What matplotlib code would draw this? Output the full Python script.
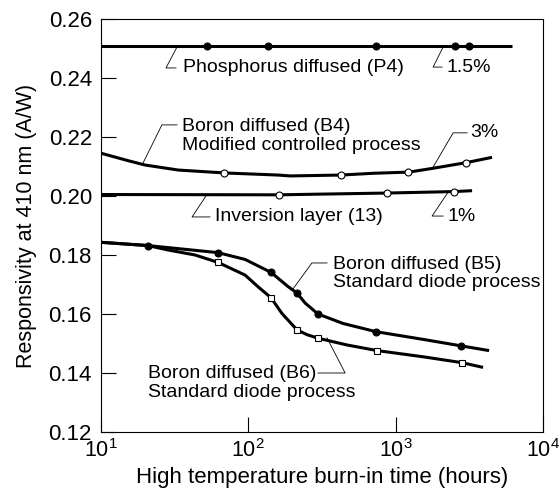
import numpy as np
import matplotlib
matplotlib.use('Agg')
import matplotlib.pyplot as plt

# Phosphorus diffused (P4)
p4_x = [10, 6200]
p4_y = [0.2510, 0.2510]
p4_mx = [52, 136, 736, 2530, 3150]
p4_my = [0.2510, 0.2510, 0.2510, 0.2510, 0.2510]

# Boron diffused (B4), modified controlled process
b4_x = [10, 15.2, 19.9, 33.4, 69.5, 159, 192, 426, 702, 1233, 1795, 3006, 4509]
b4_y = [0.2145, 0.2120, 0.2105, 0.2088, 0.2078, 0.2071, 0.2068, 0.2071,
        0.2077, 0.2081, 0.2094, 0.2113, 0.2131]
b4_mx = [68, 425, 1213, 3006]
b4_my = [0.2079, 0.2072, 0.2081, 0.2112]

# Inversion layer (13)
inv_x = [10, 161, 870, 2496, 3300]
inv_y = [0.2005, 0.2004, 0.2010, 0.2015, 0.2018]
inv_mx = [161, 870, 2496]
inv_my = [0.2004, 0.2010, 0.2015]

# Boron diffused (B5), standard diode process
b5_x = [10, 20.8, 62.2, 95, 142.6, 186, 214, 243, 297, 439, 736, 1535,
        2780, 4306]
b5_y = [0.1843, 0.1832, 0.1808, 0.1785, 0.1741, 0.1693, 0.1671, 0.1637,
        0.1600, 0.1568, 0.1540, 0.1514, 0.1492, 0.1476]
b5_mx = [20.8, 62.2, 142.6, 214, 297, 736, 2780]
b5_my = [0.1832, 0.1808, 0.1741, 0.1671, 0.1600, 0.1540, 0.1492]

# Boron diffused (B6), standard diode process
b6_x = [10, 20.8, 28.5, 43.5, 62.2, 95, 116, 142.6, 169, 214, 250, 297,
        468, 748, 1535, 2825, 3919]
b6_y = [0.1843, 0.1832, 0.1817, 0.1800, 0.1775, 0.1732, 0.1693, 0.1655,
        0.1602, 0.1546, 0.1530, 0.1518, 0.1495, 0.1476, 0.1455, 0.1435,
        0.1419]
b6_mx = [62.2, 142.6, 214, 297, 748, 2825]
b6_my = [0.1775, 0.1655, 0.1546, 0.1518, 0.1476, 0.1435]

y_ticks = [0.12, 0.14, 0.16, 0.18, 0.20, 0.22, 0.24, 0.26]
y_tick_labels = ['0.12', '0.14', '0.16', '0.18', '0.20', '0.22', '0.24', '0.26']
x_ticks = [10, 100, 1000, 10000]
x_tick_labels = [r'$10^1$', r'$10^2$', r'$10^3$', r'$10^4$']

plt.rcParams['font.family'] = ['Liberation Sans', 'DejaVu Sans']
plt.rcParams['mathtext.fontset'] = 'custom'
plt.rcParams['mathtext.rm'] = 'Liberation Sans'
plt.rcParams['mathtext.it'] = 'Liberation Sans'


def leader(ax, pts):
    """Thin callout line from a curve to its label"""
    xs, ys = zip(*pts)
    ax.plot(xs, ys, color='black', lw=0.6, zorder=2)


def draw_curve(ax, x, y, mx, my, marker, filled):
    ax.plot(x, y, color='black', lw=2.2, solid_capstyle='butt',
            solid_joinstyle='round', zorder=3)
    face = 'black' if filled else 'white'
    ax.plot(mx, my, linestyle='none', marker=marker, markersize=5,
            markerfacecolor=face, markeredgecolor='black',
            markeredgewidth=0.8, zorder=4)


def main():
    fig = plt.figure(figsize=(5.59, 4.93), dpi=100)
    ax = fig.add_axes([0.1807, 0.1237, 0.7907, 0.8378])

    draw_curve(ax, p4_x, p4_y, p4_mx, p4_my, 'o', True)
    draw_curve(ax, b4_x, b4_y, b4_mx, b4_my, 'o', False)
    draw_curve(ax, inv_x, inv_y, inv_mx, inv_my, 'o', False)
    draw_curve(ax, b5_x, b5_y, b5_mx, b5_my, 'o', True)
    draw_curve(ax, b6_x, b6_y, b6_mx, b6_my, 's', False)

    fs = 14
    # labels and callouts
    leader(ax, [(32.8, 0.2505), (27.6, 0.2434), (32.3, 0.2434)])
    ax.text(36.1, 0.2434, 'Phosphorus diffused (P4)', fontsize=fs, va='center')
    leader(ax, [(2099, 0.2505), (1795, 0.2437), (2064, 0.2437)])
    ax.text(2198, 0.2437, '1.5%', fontsize=fs, va='center')

    leader(ax, [(19.3, 0.2112), (25.9, 0.2241), (32.8, 0.2241)])
    ax.text(35.5, 0.2202, 'Boron diffused (B4)\nModified controlled process',
            fontsize=fs, va='center', linespacing=1.15)
    leader(ax, [(1766, 0.2092), (2455, 0.2214), (3055, 0.2214)])
    ax.text(3198, 0.2214, '3%', fontsize=fs, va='center')

    leader(ax, [(52.5, 0.2006), (41.5, 0.1929), (54.9, 0.1929)])
    ax.text(59.4, 0.1929, 'Inversion layer (13)', fontsize=fs, va='center')
    leader(ax, [(2270, 0.2013), (1766, 0.1932), (2099, 0.1932)])
    ax.text(2234, 0.1932, '1%', fontsize=fs, va='center')

    leader(ax, [(201, 0.1685), (270, 0.1773), (342, 0.1773)])
    ax.text(376, 0.1737, 'Boron diffused (B5)\nStandard diode process',
            fontsize=fs, va='center', linespacing=1.1)
    leader(ax, [(342, 0.1519), (454, 0.1400), (297, 0.1400)])
    ax.text(20.8, 0.1366, 'Boron diffused (B6)\nStandard diode process',
            fontsize=fs, va='center', linespacing=1.1)

    # axes styling
    ax.set_xscale('log')
    ax.set_xlim(10, 10000)
    ax.set_ylim(0.12, 0.26)
    ax.set_xticks(x_ticks)
    ax.set_xticklabels(x_tick_labels, fontsize=15.5)
    ax.set_yticks(y_ticks)
    ax.set_yticklabels(y_tick_labels, fontsize=16)
    ax.minorticks_off()
    ax.tick_params(direction='in', length=11, width=0.8)
    ax.tick_params(axis='y', pad=6.5)
    ax.tick_params(axis='x', pad=5)
    for spine in ax.spines.values():
        spine.set_linewidth(0.8)

    ax.set_xlabel('High temperature burn-in time (hours)', fontsize=16, labelpad=4)
    ax.set_ylabel('Responsivity at 410 nm (A/W)', fontsize=15.5, labelpad=8)

    fig.savefig('out.png', dpi=100)


if __name__ == '__main__':
    main()
